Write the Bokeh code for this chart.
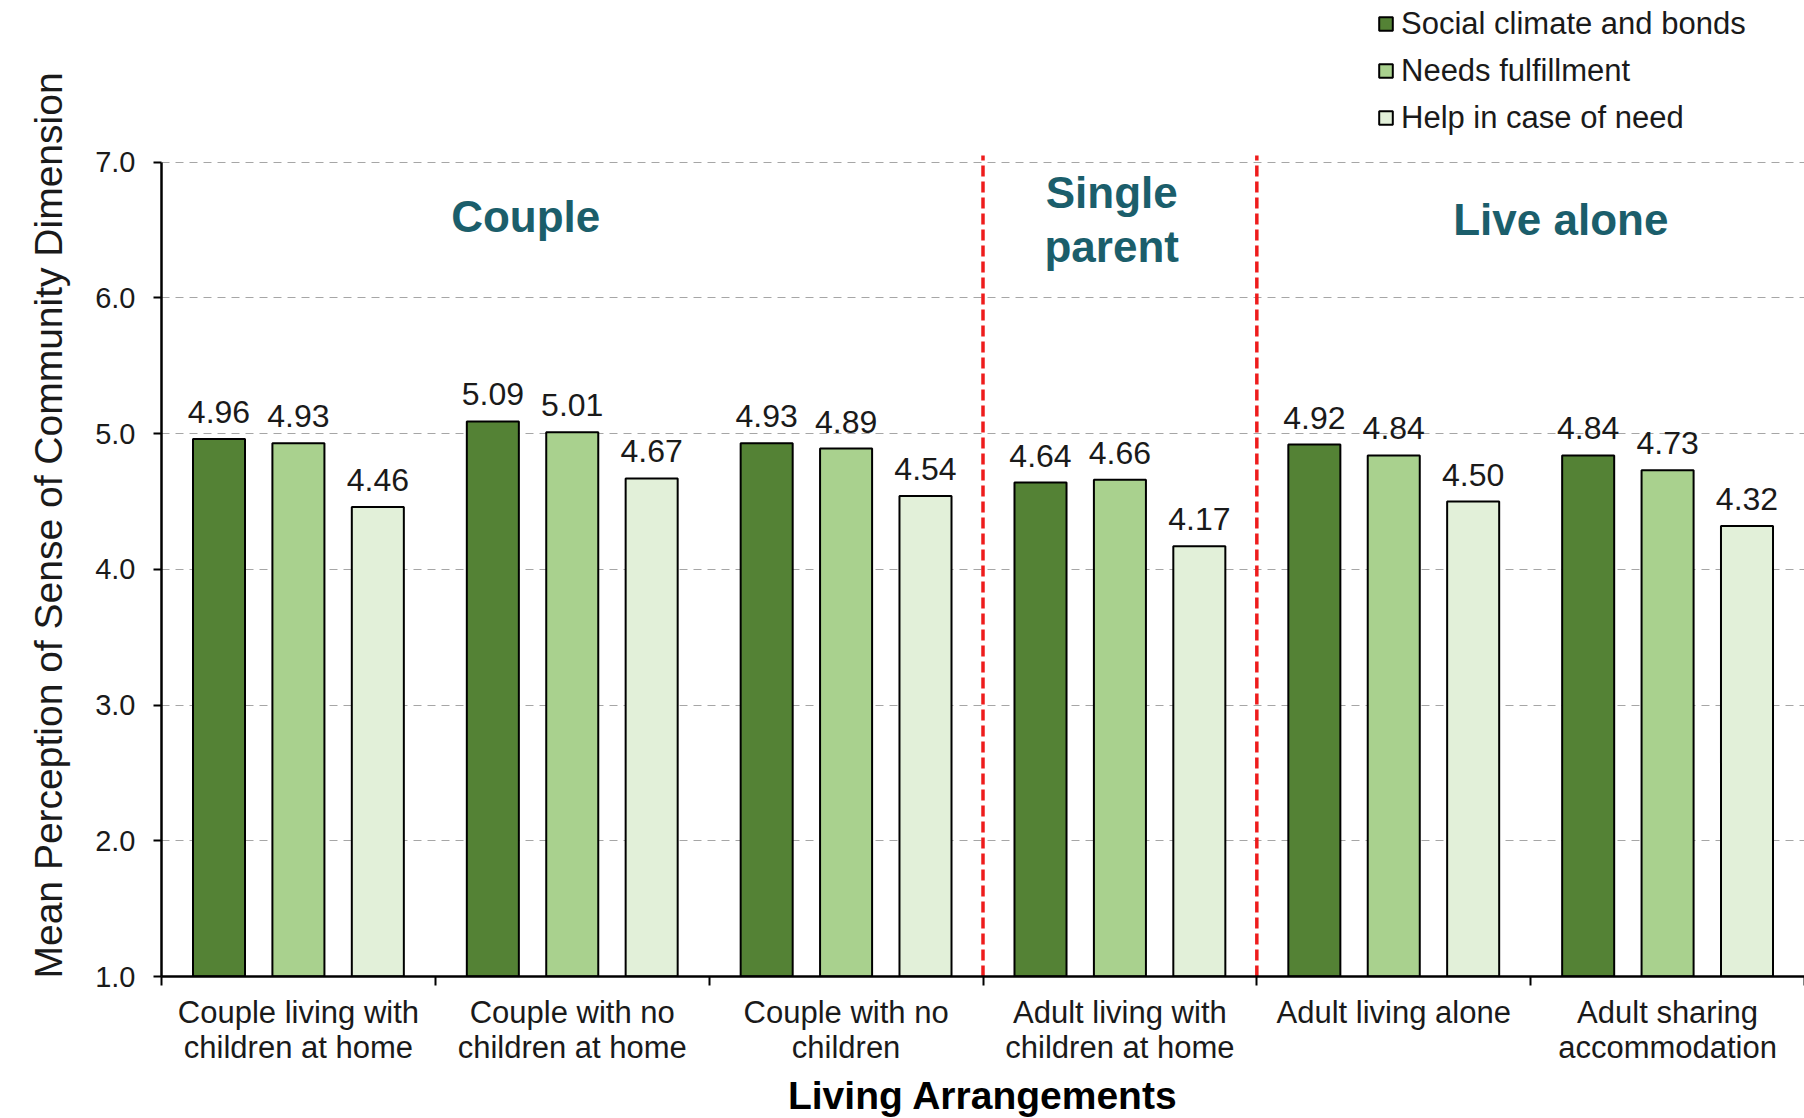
from bokeh.plotting import figure
from bokeh.models import (Range1d, FixedTicker, Legend, LegendItem, ColumnDataSource, Title)
from bokeh.core.properties import value
from bokeh.embed import file_html
from bokeh.resources import INLINE

# ---------------- data ----------------
categories = [
    "Couple living with\nchildren at home",
    "Couple with no\nchildren at home",
    "Couple with no\nchildren",
    "Adult living with\nchildren at home",
    "Adult living alone",
    "Adult sharing\naccommodation",
]
series_names = ["Social climate and bonds", "Needs fulfillment", "Help in case of need"]
social = [4.96, 5.09, 4.93, 4.64, 4.92, 4.84]
needs = [4.93, 5.01, 4.89, 4.66, 4.84, 4.73]
help_need = [4.46, 4.67, 4.54, 4.17, 4.50, 4.32]
groups = ["Couple", "Single\nparent", "Live alone"]
group_sizes = [3, 1, 2]
y_ticks = [1.0, 2.0, 3.0, 4.0, 5.0, 6.0, 7.0]

# ---------------- style / layout ----------------
FONT = "Liberation Sans"
colors = ["#548235", "#A9D18E", "#E2F0D9"]
offsets = [-0.29, 0.0, 0.29]
bar_w = 0.19
teal = "#1B5E6B"

n = len(categories)
centers = [i + 0.5 for i in range(n)]

FRAME_BOTTOM = 976          # px from top of page
PX_PER_UNIT = 821 / 6.05
y_top = 1 + FRAME_BOTTOM / PX_PER_UNIT   # frame reaches the page top (legend lives there)

p = figure(frame_width=1643, frame_height=FRAME_BOTTOM,
           x_range=Range1d(0, n), y_range=Range1d(1, y_top),
           output_backend="svg", toolbar_location=None,
           min_border_left=161, min_border_top=0, min_border_right=0,
           min_border_bottom=5)
p.outline_line_color = None
p.background_fill_color = "white"

# grid
p.xgrid.grid_line_color = None
p.ygrid.ticker = FixedTicker(ticks=y_ticks)
p.ygrid.grid_line_color = "#A6A6A6"
p.ygrid.grid_line_dash = "8 6"
p.ygrid.grid_line_width = 1

# bars
renderers = []
for vals, col, off in zip([social, needs, help_need], colors, offsets):
    src = ColumnDataSource(dict(x=[c + off for c in centers], top=vals,
                                lab=["%.2f" % v for v in vals]))
    r = p.vbar(x="x", top="top", bottom=1.0, width=bar_w, source=src,
               fill_color=col, line_color="black", line_width=2)
    renderers.append(r)
    p.text(x="x", y="top", text="lab", source=src, text_align="center",
           text_baseline="bottom", y_offset=-16,
           text_font=value(FONT), text_font_size="32px", text_color="#1A1A1A")

# separators between groups
seps = []
pos = 0
for s in group_sizes[:-1]:
    pos += s
    seps.append(pos)
p.segment(x0=seps, x1=seps, y0=[1.0] * len(seps), y1=[7.05] * len(seps),
          line_color="#EE1C1C", line_width=3.5, line_dash="11 5")

# group labels
group_x = [1.33, 3.47, 5.11]
group_y = [6.60, 6.58, 6.58]
gsrc = ColumnDataSource(dict(x=group_x, y=group_y, t=groups))
p.text(x="x", y="y", text="t", source=gsrc, text_align="center",
       text_baseline="middle", text_font=value(FONT), text_font_style="bold",
       text_font_size="44px", text_color=teal, text_line_height=1.1)

# axes
xa = p.xaxis[0]
xa.ticker = FixedTicker(ticks=centers, minor_ticks=list(range(n + 1)))
xa.major_label_overrides = {c: lab for c, lab in zip(centers, categories)}
xa.major_tick_line_color = None
xa.minor_tick_line_color = "black"
xa.minor_tick_line_width = 2
xa.minor_tick_out = 9
xa.minor_tick_in = 0
xa.axis_line_width = 2.5
xa.axis_line_color = "black"
xa.major_label_text_font = FONT
xa.major_label_text_font_size = "31px"
xa.major_label_text_line_height = 1.0
xa.major_label_text_color = "#1A1A1A"
xa.major_label_standoff = 9
xa.axis_label = "Living Arrangements"
xa.axis_label_text_font = FONT
xa.axis_label_text_font_style = "bold"
xa.axis_label_text_font_size = "39px"
xa.axis_label_text_color = "black"
xa.axis_label_standoff = 6

ya = p.yaxis[0]
ya.ticker = FixedTicker(ticks=y_ticks)
ya.major_label_overrides = {t: "%.1f" % t for t in y_ticks}
ya.bounds = (1, 7)
ya.axis_line_width = 2.5
ya.axis_line_color = "black"
ya.major_tick_line_width = 2
ya.major_tick_out = 8
ya.major_tick_in = 0
ya.minor_tick_line_color = None
ya.major_label_text_font = FONT
ya.major_label_text_font_size = "29px"
ya.major_label_text_color = "#1A1A1A"
ya.major_label_standoff = 18

ylab = Title(text="Mean Perception of Sense of Community Dimension", align="left",
             vertical_align="bottom", offset=-2, standoff=46,
             text_font=FONT, text_font_style="normal", text_font_size="39px",
             text_color="#1A1A1A")
p.add_layout(ylab, "left")

# legend (tuple location = legend's bottom-left, measured from frame bottom-left)
ITEM_H = 47
legend = Legend(items=[LegendItem(label=nm, renderers=[r]) for nm, r in zip(series_names, renderers)],
                orientation="vertical")
legend.location = (1216, FRAME_BOTTOM - len(series_names) * ITEM_H)
legend.label_text_font = FONT
legend.label_text_font_size = "31px"
legend.label_text_color = "#1A1A1A"
legend.glyph_width = 17
legend.glyph_height = 17
legend.label_height = ITEM_H
legend.label_standoff = 7
legend.spacing = 0
legend.padding = 0
legend.margin = 0
legend.border_line_color = None
legend.background_fill_alpha = 0
p.add_layout(legend, "center")

open("out.html", "w").write(file_html(p, INLINE))
